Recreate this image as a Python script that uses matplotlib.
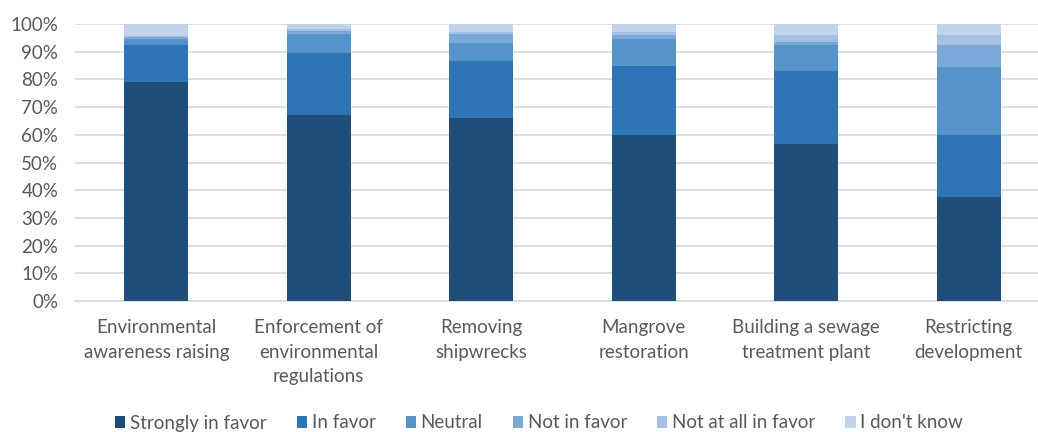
import numpy as np
import matplotlib.pyplot as plt

# ----------------------------
# Data (percent of respondents)
# ----------------------------
categories = [
    "Environmental\nawareness raising",
    "Enforcement of\nenvironmental\nregulations",
    "Removing\nshipwrecks",
    "Mangrove\nrestoration",
    "Building a sewage\ntreatment plant",
    "Restricting\ndevelopment",
]
series_names = ["Strongly in favor", "In favor", "Neutral",
                "Not in favor", "Not at all in favor", "I don't know"]

strongly_in_favor = [79.0, 67.0, 66.0, 59.8, 56.5, 37.7]
in_favor = [13.4, 22.4, 20.8, 25.2, 26.7, 22.3]
neutral = [2.1, 7.0, 6.3, 9.5, 9.2, 24.4]
not_in_favor = [0.8, 1.2, 3.3, 1.5, 1.2, 8.0]
not_at_all = [0.5, 0.5, 0.6, 1.2, 2.4, 3.6]
dont_know = [4.2, 1.9, 3.0, 2.8, 4.0, 4.0]

colors = ["#1F4E79", "#2E75B6", "#5593C9", "#7AA8D8", "#A4C0E3", "#C3D3EA"]

values = [strongly_in_favor, in_favor, neutral, not_in_favor, not_at_all, dont_know]

# ----------------------------
# Plot
# ----------------------------
plt.rcParams["font.family"] = ["Lato", "DejaVu Sans"]
fig = plt.figure(figsize=(10.38, 4.32), dpi=100)
ax = fig.add_axes([75 / 1038, 1 - 301 / 432, 975 / 1038, 277 / 432])

x = np.arange(len(categories))
bottom = np.zeros(len(categories))
for name, vals, col in zip(series_names, values, colors):
    ax.bar(x, vals, bottom=bottom, width=0.395, color=col, label=name, zorder=3)
    bottom += np.array(vals)

ax.set_xlim(-0.5, len(categories) - 0.5)
ax.set_ylim(0, 100)
ax.set_yticks(np.arange(0, 101, 10))
ax.set_yticklabels([f"{v}%" for v in range(0, 101, 10)])
ax.set_xticks(x)
ax.set_xticklabels(categories, linespacing=1.55)

ax.grid(axis="y", color="#D9D9D9", linewidth=1.2, zorder=0)
for s in ["top", "right", "left"]:
    ax.spines[s].set_visible(False)
ax.spines["bottom"].set_color("#D9D9D9")
ax.spines["bottom"].set_linewidth(1.2)
ax.tick_params(axis="both", length=0, labelsize=13.5, colors="#595959")
ax.tick_params(axis="x", pad=13)
ax.tick_params(axis="y", pad=12)

fig.legend(loc="center", bbox_to_anchor=(539 / 1038, 1 - 423 / 432), ncol=6,
           frameon=False, fontsize=13.5, labelcolor="#595959",
           handlelength=0.55, handleheight=0.55, handletextpad=0.25, columnspacing=1.6)

plt.savefig("out.png", dpi=100)
plt.close()
